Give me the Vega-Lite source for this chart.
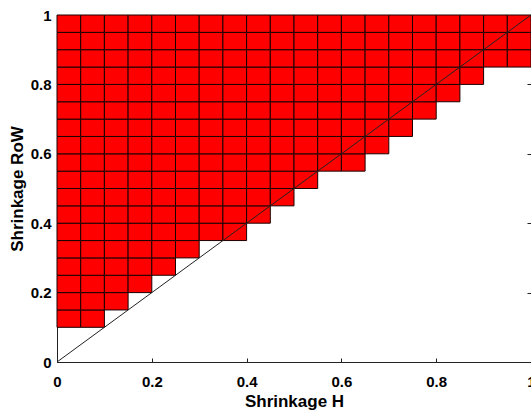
{
"$schema": "https://vega.github.io/schema/vega-lite/v6.json",
"width": 474, "height": 347,
"autosize": {"type": "none"},
"padding": {"left": 57, "top": 15, "right": 0, "bottom": 48},
"config": {"view": {"stroke": null}, "font": "Liberation Sans",
 "axis": {"grid": false, "labelFont": "Liberation Sans", "labelFontWeight": "bold", "labelFontSize": 15, "labelColor": "#000", "titleFont": "Liberation Sans", "titleFontWeight": "bold", "titleFontSize": 17, "titleColor": "#000", "domainColor": "#222", "tickColor": "#222", "tickSize": -4, "domainWidth": 1, "tickWidth": 1}},
"layer": [
 {"data": {"values": [
{"h0":0,"h1":0.05,"r0":0.1,"r1":0.15},{"h0":0,"h1":0.05,"r0":0.15,"r1":0.2},{"h0":0,"h1":0.05,"r0":0.2,"r1":0.25},{"h0":0,"h1":0.05,"r0":0.25,"r1":0.3},{"h0":0,"h1":0.05,"r0":0.3,"r1":0.35},{"h0":0,"h1":0.05,"r0":0.35,"r1":0.4},{"h0":0,"h1":0.05,"r0":0.4,"r1":0.45},{"h0":0,"h1":0.05,"r0":0.45,"r1":0.5},{"h0":0,"h1":0.05,"r0":0.5,"r1":0.55},{"h0":0,"h1":0.05,"r0":0.55,"r1":0.6},{"h0":0,"h1":0.05,"r0":0.6,"r1":0.65},{"h0":0,"h1":0.05,"r0":0.65,"r1":0.7},{"h0":0,"h1":0.05,"r0":0.7,"r1":0.75},{"h0":0,"h1":0.05,"r0":0.75,"r1":0.8},{"h0":0,"h1":0.05,"r0":0.8,"r1":0.85},{"h0":0,"h1":0.05,"r0":0.85,"r1":0.9},{"h0":0,"h1":0.05,"r0":0.9,"r1":0.95},{"h0":0,"h1":0.05,"r0":0.95,"r1":1},
{"h0":0.05,"h1":0.1,"r0":0.1,"r1":0.15},{"h0":0.05,"h1":0.1,"r0":0.15,"r1":0.2},{"h0":0.05,"h1":0.1,"r0":0.2,"r1":0.25},{"h0":0.05,"h1":0.1,"r0":0.25,"r1":0.3},{"h0":0.05,"h1":0.1,"r0":0.3,"r1":0.35},{"h0":0.05,"h1":0.1,"r0":0.35,"r1":0.4},{"h0":0.05,"h1":0.1,"r0":0.4,"r1":0.45},{"h0":0.05,"h1":0.1,"r0":0.45,"r1":0.5},{"h0":0.05,"h1":0.1,"r0":0.5,"r1":0.55},{"h0":0.05,"h1":0.1,"r0":0.55,"r1":0.6},{"h0":0.05,"h1":0.1,"r0":0.6,"r1":0.65},{"h0":0.05,"h1":0.1,"r0":0.65,"r1":0.7},{"h0":0.05,"h1":0.1,"r0":0.7,"r1":0.75},{"h0":0.05,"h1":0.1,"r0":0.75,"r1":0.8},{"h0":0.05,"h1":0.1,"r0":0.8,"r1":0.85},{"h0":0.05,"h1":0.1,"r0":0.85,"r1":0.9},{"h0":0.05,"h1":0.1,"r0":0.9,"r1":0.95},{"h0":0.05,"h1":0.1,"r0":0.95,"r1":1},
{"h0":0.1,"h1":0.15,"r0":0.15,"r1":0.2},{"h0":0.1,"h1":0.15,"r0":0.2,"r1":0.25},{"h0":0.1,"h1":0.15,"r0":0.25,"r1":0.3},{"h0":0.1,"h1":0.15,"r0":0.3,"r1":0.35},{"h0":0.1,"h1":0.15,"r0":0.35,"r1":0.4},{"h0":0.1,"h1":0.15,"r0":0.4,"r1":0.45},{"h0":0.1,"h1":0.15,"r0":0.45,"r1":0.5},{"h0":0.1,"h1":0.15,"r0":0.5,"r1":0.55},{"h0":0.1,"h1":0.15,"r0":0.55,"r1":0.6},{"h0":0.1,"h1":0.15,"r0":0.6,"r1":0.65},{"h0":0.1,"h1":0.15,"r0":0.65,"r1":0.7},{"h0":0.1,"h1":0.15,"r0":0.7,"r1":0.75},{"h0":0.1,"h1":0.15,"r0":0.75,"r1":0.8},{"h0":0.1,"h1":0.15,"r0":0.8,"r1":0.85},{"h0":0.1,"h1":0.15,"r0":0.85,"r1":0.9},{"h0":0.1,"h1":0.15,"r0":0.9,"r1":0.95},{"h0":0.1,"h1":0.15,"r0":0.95,"r1":1},
{"h0":0.15,"h1":0.2,"r0":0.2,"r1":0.25},{"h0":0.15,"h1":0.2,"r0":0.25,"r1":0.3},{"h0":0.15,"h1":0.2,"r0":0.3,"r1":0.35},{"h0":0.15,"h1":0.2,"r0":0.35,"r1":0.4},{"h0":0.15,"h1":0.2,"r0":0.4,"r1":0.45},{"h0":0.15,"h1":0.2,"r0":0.45,"r1":0.5},{"h0":0.15,"h1":0.2,"r0":0.5,"r1":0.55},{"h0":0.15,"h1":0.2,"r0":0.55,"r1":0.6},{"h0":0.15,"h1":0.2,"r0":0.6,"r1":0.65},{"h0":0.15,"h1":0.2,"r0":0.65,"r1":0.7},{"h0":0.15,"h1":0.2,"r0":0.7,"r1":0.75},{"h0":0.15,"h1":0.2,"r0":0.75,"r1":0.8},{"h0":0.15,"h1":0.2,"r0":0.8,"r1":0.85},{"h0":0.15,"h1":0.2,"r0":0.85,"r1":0.9},{"h0":0.15,"h1":0.2,"r0":0.9,"r1":0.95},{"h0":0.15,"h1":0.2,"r0":0.95,"r1":1},
{"h0":0.2,"h1":0.25,"r0":0.25,"r1":0.3},{"h0":0.2,"h1":0.25,"r0":0.3,"r1":0.35},{"h0":0.2,"h1":0.25,"r0":0.35,"r1":0.4},{"h0":0.2,"h1":0.25,"r0":0.4,"r1":0.45},{"h0":0.2,"h1":0.25,"r0":0.45,"r1":0.5},{"h0":0.2,"h1":0.25,"r0":0.5,"r1":0.55},{"h0":0.2,"h1":0.25,"r0":0.55,"r1":0.6},{"h0":0.2,"h1":0.25,"r0":0.6,"r1":0.65},{"h0":0.2,"h1":0.25,"r0":0.65,"r1":0.7},{"h0":0.2,"h1":0.25,"r0":0.7,"r1":0.75},{"h0":0.2,"h1":0.25,"r0":0.75,"r1":0.8},{"h0":0.2,"h1":0.25,"r0":0.8,"r1":0.85},{"h0":0.2,"h1":0.25,"r0":0.85,"r1":0.9},{"h0":0.2,"h1":0.25,"r0":0.9,"r1":0.95},{"h0":0.2,"h1":0.25,"r0":0.95,"r1":1},
{"h0":0.25,"h1":0.3,"r0":0.3,"r1":0.35},{"h0":0.25,"h1":0.3,"r0":0.35,"r1":0.4},{"h0":0.25,"h1":0.3,"r0":0.4,"r1":0.45},{"h0":0.25,"h1":0.3,"r0":0.45,"r1":0.5},{"h0":0.25,"h1":0.3,"r0":0.5,"r1":0.55},{"h0":0.25,"h1":0.3,"r0":0.55,"r1":0.6},{"h0":0.25,"h1":0.3,"r0":0.6,"r1":0.65},{"h0":0.25,"h1":0.3,"r0":0.65,"r1":0.7},{"h0":0.25,"h1":0.3,"r0":0.7,"r1":0.75},{"h0":0.25,"h1":0.3,"r0":0.75,"r1":0.8},{"h0":0.25,"h1":0.3,"r0":0.8,"r1":0.85},{"h0":0.25,"h1":0.3,"r0":0.85,"r1":0.9},{"h0":0.25,"h1":0.3,"r0":0.9,"r1":0.95},{"h0":0.25,"h1":0.3,"r0":0.95,"r1":1},
{"h0":0.3,"h1":0.35,"r0":0.35,"r1":0.4},{"h0":0.3,"h1":0.35,"r0":0.4,"r1":0.45},{"h0":0.3,"h1":0.35,"r0":0.45,"r1":0.5},{"h0":0.3,"h1":0.35,"r0":0.5,"r1":0.55},{"h0":0.3,"h1":0.35,"r0":0.55,"r1":0.6},{"h0":0.3,"h1":0.35,"r0":0.6,"r1":0.65},{"h0":0.3,"h1":0.35,"r0":0.65,"r1":0.7},{"h0":0.3,"h1":0.35,"r0":0.7,"r1":0.75},{"h0":0.3,"h1":0.35,"r0":0.75,"r1":0.8},{"h0":0.3,"h1":0.35,"r0":0.8,"r1":0.85},{"h0":0.3,"h1":0.35,"r0":0.85,"r1":0.9},{"h0":0.3,"h1":0.35,"r0":0.9,"r1":0.95},{"h0":0.3,"h1":0.35,"r0":0.95,"r1":1},
{"h0":0.35,"h1":0.4,"r0":0.35,"r1":0.4},{"h0":0.35,"h1":0.4,"r0":0.4,"r1":0.45},{"h0":0.35,"h1":0.4,"r0":0.45,"r1":0.5},{"h0":0.35,"h1":0.4,"r0":0.5,"r1":0.55},{"h0":0.35,"h1":0.4,"r0":0.55,"r1":0.6},{"h0":0.35,"h1":0.4,"r0":0.6,"r1":0.65},{"h0":0.35,"h1":0.4,"r0":0.65,"r1":0.7},{"h0":0.35,"h1":0.4,"r0":0.7,"r1":0.75},{"h0":0.35,"h1":0.4,"r0":0.75,"r1":0.8},{"h0":0.35,"h1":0.4,"r0":0.8,"r1":0.85},{"h0":0.35,"h1":0.4,"r0":0.85,"r1":0.9},{"h0":0.35,"h1":0.4,"r0":0.9,"r1":0.95},{"h0":0.35,"h1":0.4,"r0":0.95,"r1":1},
{"h0":0.4,"h1":0.45,"r0":0.4,"r1":0.45},{"h0":0.4,"h1":0.45,"r0":0.45,"r1":0.5},{"h0":0.4,"h1":0.45,"r0":0.5,"r1":0.55},{"h0":0.4,"h1":0.45,"r0":0.55,"r1":0.6},{"h0":0.4,"h1":0.45,"r0":0.6,"r1":0.65},{"h0":0.4,"h1":0.45,"r0":0.65,"r1":0.7},{"h0":0.4,"h1":0.45,"r0":0.7,"r1":0.75},{"h0":0.4,"h1":0.45,"r0":0.75,"r1":0.8},{"h0":0.4,"h1":0.45,"r0":0.8,"r1":0.85},{"h0":0.4,"h1":0.45,"r0":0.85,"r1":0.9},{"h0":0.4,"h1":0.45,"r0":0.9,"r1":0.95},{"h0":0.4,"h1":0.45,"r0":0.95,"r1":1},
{"h0":0.45,"h1":0.5,"r0":0.45,"r1":0.5},{"h0":0.45,"h1":0.5,"r0":0.5,"r1":0.55},{"h0":0.45,"h1":0.5,"r0":0.55,"r1":0.6},{"h0":0.45,"h1":0.5,"r0":0.6,"r1":0.65},{"h0":0.45,"h1":0.5,"r0":0.65,"r1":0.7},{"h0":0.45,"h1":0.5,"r0":0.7,"r1":0.75},{"h0":0.45,"h1":0.5,"r0":0.75,"r1":0.8},{"h0":0.45,"h1":0.5,"r0":0.8,"r1":0.85},{"h0":0.45,"h1":0.5,"r0":0.85,"r1":0.9},{"h0":0.45,"h1":0.5,"r0":0.9,"r1":0.95},{"h0":0.45,"h1":0.5,"r0":0.95,"r1":1},
{"h0":0.5,"h1":0.55,"r0":0.5,"r1":0.55},{"h0":0.5,"h1":0.55,"r0":0.55,"r1":0.6},{"h0":0.5,"h1":0.55,"r0":0.6,"r1":0.65},{"h0":0.5,"h1":0.55,"r0":0.65,"r1":0.7},{"h0":0.5,"h1":0.55,"r0":0.7,"r1":0.75},{"h0":0.5,"h1":0.55,"r0":0.75,"r1":0.8},{"h0":0.5,"h1":0.55,"r0":0.8,"r1":0.85},{"h0":0.5,"h1":0.55,"r0":0.85,"r1":0.9},{"h0":0.5,"h1":0.55,"r0":0.9,"r1":0.95},{"h0":0.5,"h1":0.55,"r0":0.95,"r1":1},
{"h0":0.55,"h1":0.6,"r0":0.55,"r1":0.6},{"h0":0.55,"h1":0.6,"r0":0.6,"r1":0.65},{"h0":0.55,"h1":0.6,"r0":0.65,"r1":0.7},{"h0":0.55,"h1":0.6,"r0":0.7,"r1":0.75},{"h0":0.55,"h1":0.6,"r0":0.75,"r1":0.8},{"h0":0.55,"h1":0.6,"r0":0.8,"r1":0.85},{"h0":0.55,"h1":0.6,"r0":0.85,"r1":0.9},{"h0":0.55,"h1":0.6,"r0":0.9,"r1":0.95},{"h0":0.55,"h1":0.6,"r0":0.95,"r1":1},
{"h0":0.6,"h1":0.65,"r0":0.55,"r1":0.6},{"h0":0.6,"h1":0.65,"r0":0.6,"r1":0.65},{"h0":0.6,"h1":0.65,"r0":0.65,"r1":0.7},{"h0":0.6,"h1":0.65,"r0":0.7,"r1":0.75},{"h0":0.6,"h1":0.65,"r0":0.75,"r1":0.8},{"h0":0.6,"h1":0.65,"r0":0.8,"r1":0.85},{"h0":0.6,"h1":0.65,"r0":0.85,"r1":0.9},{"h0":0.6,"h1":0.65,"r0":0.9,"r1":0.95},{"h0":0.6,"h1":0.65,"r0":0.95,"r1":1},
{"h0":0.65,"h1":0.7,"r0":0.6,"r1":0.65},{"h0":0.65,"h1":0.7,"r0":0.65,"r1":0.7},{"h0":0.65,"h1":0.7,"r0":0.7,"r1":0.75},{"h0":0.65,"h1":0.7,"r0":0.75,"r1":0.8},{"h0":0.65,"h1":0.7,"r0":0.8,"r1":0.85},{"h0":0.65,"h1":0.7,"r0":0.85,"r1":0.9},{"h0":0.65,"h1":0.7,"r0":0.9,"r1":0.95},{"h0":0.65,"h1":0.7,"r0":0.95,"r1":1},
{"h0":0.7,"h1":0.75,"r0":0.65,"r1":0.7},{"h0":0.7,"h1":0.75,"r0":0.7,"r1":0.75},{"h0":0.7,"h1":0.75,"r0":0.75,"r1":0.8},{"h0":0.7,"h1":0.75,"r0":0.8,"r1":0.85},{"h0":0.7,"h1":0.75,"r0":0.85,"r1":0.9},{"h0":0.7,"h1":0.75,"r0":0.9,"r1":0.95},{"h0":0.7,"h1":0.75,"r0":0.95,"r1":1},
{"h0":0.75,"h1":0.8,"r0":0.7,"r1":0.75},{"h0":0.75,"h1":0.8,"r0":0.75,"r1":0.8},{"h0":0.75,"h1":0.8,"r0":0.8,"r1":0.85},{"h0":0.75,"h1":0.8,"r0":0.85,"r1":0.9},{"h0":0.75,"h1":0.8,"r0":0.9,"r1":0.95},{"h0":0.75,"h1":0.8,"r0":0.95,"r1":1},
{"h0":0.8,"h1":0.85,"r0":0.75,"r1":0.8},{"h0":0.8,"h1":0.85,"r0":0.8,"r1":0.85},{"h0":0.8,"h1":0.85,"r0":0.85,"r1":0.9},{"h0":0.8,"h1":0.85,"r0":0.9,"r1":0.95},{"h0":0.8,"h1":0.85,"r0":0.95,"r1":1},
{"h0":0.85,"h1":0.9,"r0":0.8,"r1":0.85},{"h0":0.85,"h1":0.9,"r0":0.85,"r1":0.9},{"h0":0.85,"h1":0.9,"r0":0.9,"r1":0.95},{"h0":0.85,"h1":0.9,"r0":0.95,"r1":1},
{"h0":0.9,"h1":0.95,"r0":0.85,"r1":0.9},{"h0":0.9,"h1":0.95,"r0":0.9,"r1":0.95},{"h0":0.9,"h1":0.95,"r0":0.95,"r1":1},
{"h0":0.95,"h1":1,"r0":0.85,"r1":0.9},{"h0":0.95,"h1":1,"r0":0.9,"r1":0.95},{"h0":0.95,"h1":1,"r0":0.95,"r1":1}
 ]},
 "mark": {"type": "rect", "fill": "#ff0000", "stroke": "#1a0000", "strokeWidth": 1},
 "encoding": {
  "x": {"field": "h0", "type": "quantitative", "scale": {"domain": [0, 1], "nice": false}, "axis": {"title": "Shrinkage H", "values": [0, 0.2, 0.4, 0.6, 0.8, 1], "format": "~g", "labelFlush": false, "labelPadding": 16, "titlePadding": 4}},
  "x2": {"field": "h1"},
  "y": {"field": "r0", "type": "quantitative", "scale": {"domain": [0, 1], "nice": false}, "axis": {"title": "Shrinkage RoW", "values": [0, 0.2, 0.4, 0.6, 0.8, 1], "format": "~g", "labelFlush": false, "labelPadding": 10, "titlePadding": 4}},
  "y2": {"field": "r1"}
 }},
 {"data": {"values": [{"d": 0}, {"d": 1}]},
  "mark": {"type": "line", "color": "#222", "strokeWidth": 1},
  "encoding": {
   "x": {"field": "d", "type": "quantitative"},
   "y": {"field": "d", "type": "quantitative", "axis": {"orient": "right", "title": null, "labels": false, "domain": false, "values": [0, 0.2, 0.4, 0.6, 0.8, 1]}}
  }}
],
"resolve": {"axis": {"y": "independent"}}
}
